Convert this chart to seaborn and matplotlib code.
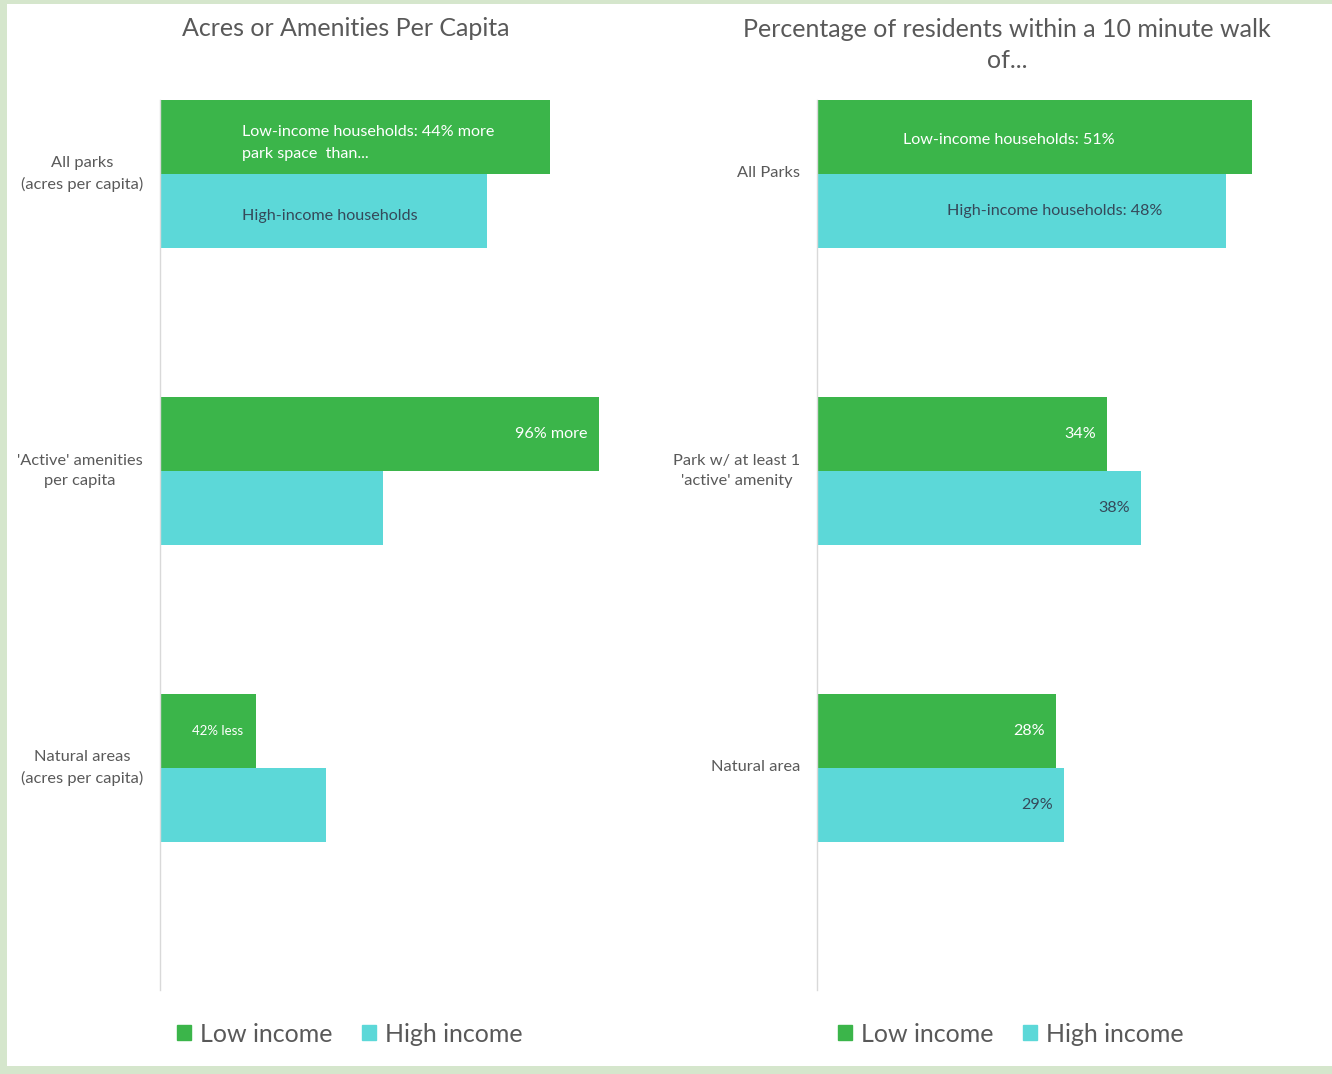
import matplotlib
matplotlib.use("Agg")
import matplotlib.pyplot as plt
import matplotlib.patches as mpatches
import matplotlib.transforms as mtransforms
import seaborn as sns
import pandas as pd

# ---------------- data ----------------
left_categories = ["All parks\n(acres per capita)", "'Active' amenities\nper capita", "Natural areas\n(acres per capita)"]
left_low = [3.90, 4.39, 0.96]      # relative amount (arbitrary units)
left_high = [3.27, 2.23, 1.66]

right_categories = ["All Parks", "Park w/ at least 1\n'active' amenity", "Natural area"]
right_low = [51, 34, 28]           # percent
right_high = [48, 38, 29]

series = ["Low income", "High income"]
left_title = "Acres or Amenities Per Capita"
right_title = "Percentage of residents within a 10 minute walk\nof..."

GREEN = "#3BB54A"
CYAN = "#5CD8D8"
GRAY = "#595959"
DARK = "#35495a"

W, H = 1332, 1074
sns.set_theme(style="white")
plt.rcParams['font.family'] = ['Lato', 'DejaVu Sans']

fig = plt.figure(figsize=(W / 100, H / 100), dpi=100)
fig.patch.set_facecolor("#D5E6CC")
# white card
fig.patches.append(mpatches.Rectangle((7 / W, 8 / H), 1 - 7 / W, 1 - 12 / H, transform=fig.transFigure,
                                      facecolor="white", edgecolor="none", zorder=-10))


def px_axes(x0, x1, y0, y1):
    return fig.add_axes([x0 / W, 1 - y1 / H, (x1 - x0) / W, (y1 - y0) / H])


def make_df(cats, low, high):
    return pd.DataFrame({
        "category": cats * 2,
        "value": list(low) + list(high),
        "income": [series[0]] * len(cats) + [series[1]] * len(cats),
    })


axL = px_axes(160, 640, 100, 990)
axR = px_axes(817, 1280, 100, 990)

for ax, cats, low, high, xmax in [(axL, left_categories, left_low, left_high, 4.8),
                                  (axR, right_categories, right_low, right_high, 54.3)]:
    df = make_df(cats, low, high)
    sns.barplot(data=df, y="category", x="value", hue="income", orient="h",
                palette=[GREEN, CYAN], width=0.5, dodge=True, ax=ax,
                saturation=1, legend=False, linewidth=0)
    ax.set_xlim(0, xmax)
    ax.set_ylim(2.747, -0.249)
    ax.set_xlabel("")
    ax.set_ylabel("")
    ax.set_xticks([])
    ax.set_facecolor("none")
    for s in ["top", "right", "bottom"]:
        ax.spines[s].set_visible(False)
    ax.spines["left"].set_color("#d9d9d9")
    ax.spines["left"].set_linewidth(1)
    ax.tick_params(axis="y", length=0, pad=12, labelsize=11.8, labelcolor=GRAY)
    # category labels drawn as text so they can be nudged like Excel's
    ax.set_yticklabels([""] * len(cats))
    trans = mtransforms.blended_transform_factory(ax.transAxes, ax.transData)
    for i, c in enumerate(cats):
        dy = 0.0 if "\n" in c else 0.6
        ax.annotate(c, xy=(0, i), xycoords=trans, xytext=(-12.2, dy), textcoords="offset points",
                    ha="right", va="center", multialignment="center", linespacing=1.62,
                    fontsize=11.8, color=GRAY)

# ---------------- bar labels ----------------
lab_fs = 11.6
off = -8  # points, inside end

# left panel
axL.annotate("Low-income households: 44% more\npark space  than...", xy=(0.82, -0.125), xytext=(0, -4.7),
             textcoords="offset points", color="white", fontsize=lab_fs, ha="left", va="center",
             linespacing=1.72)
axL.annotate("High-income households", xy=(0.82, 0.125), xytext=(0, -3.5), textcoords="offset points",
             color=DARK, fontsize=lab_fs, ha="left", va="center")
axL.annotate("96% more", xy=(left_low[1], 1 - 0.125), xytext=(off, 0), textcoords="offset points",
             color="white", fontsize=lab_fs, ha="right", va="center")
axL.annotate("42% less", xy=(left_low[2] / 2 + 0.1, 2 - 0.125), ha="center", va="center",
             color="white", fontsize=9.5)

# right panel
axR.annotate(f"Low-income households: {right_low[0]}%", xy=(22.5, -0.125), xytext=(0, -2),
             textcoords="offset points", color="white", fontsize=lab_fs, ha="center", va="center")
axR.annotate(f"High-income households: {right_high[0]}%", xy=(27.9, 0.125), xytext=(0, 0),
             textcoords="offset points", color=DARK, fontsize=lab_fs, ha="center", va="center")
for i in (1, 2):
    axR.annotate(f"{right_low[i]}%", xy=(right_low[i], i - 0.125), xytext=(off, 0), textcoords="offset points",
                 color="white", fontsize=lab_fs, ha="right", va="center")
    axR.annotate(f"{right_high[i]}%", xy=(right_high[i], i + 0.125), xytext=(off, 0), textcoords="offset points",
                 color=DARK, fontsize=lab_fs, ha="right", va="center")

# ---------------- titles ----------------
fig.text(346 / W, 1 - 28 / H, left_title, ha="center", va="center", fontsize=18, color=GRAY)
fig.text(1007 / W, 1 - 45 / H, right_title, ha="center", va="center", fontsize=18, color=GRAY,
         linespacing=1.45)

# ---------------- legends ----------------
handles = [mpatches.Patch(color=GREEN, label=series[0]), mpatches.Patch(color=CYAN, label=series[1])]
for cx in (350, 1011):
    fig.legend(handles=handles, loc="center", bbox_to_anchor=(cx / W, 1 - 1034 / H), ncol=2,
               frameon=False, fontsize=18, labelcolor=GRAY, handlelength=0.55, handleheight=0.55,
               handletextpad=0.35, columnspacing=1.2, borderaxespad=0)

fig.savefig("out.png", dpi=100, facecolor=fig.get_facecolor())
